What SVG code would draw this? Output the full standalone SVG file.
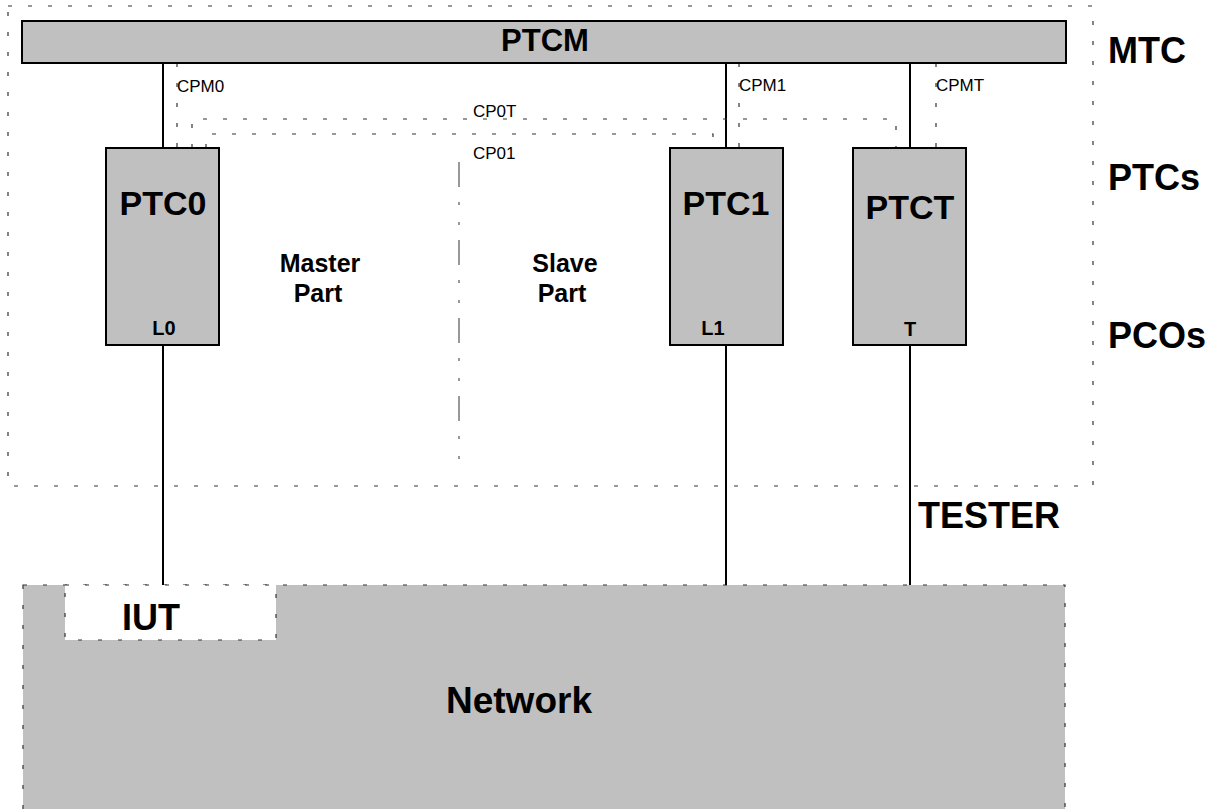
<svg xmlns="http://www.w3.org/2000/svg" width="1210" height="809" viewBox="0 0 1210 809">
<style>
.dot{fill:none;stroke:#333;stroke-width:1.2;stroke-dasharray:4 16}
.box{fill:#c0c0c0;stroke:#000;stroke-width:2}
.ln{fill:none;stroke:#000;stroke-width:2}
.b{font-family:"Liberation Sans",Arial,sans-serif;font-weight:bold;fill:#000}
.r{font-family:"Liberation Sans",Arial,sans-serif;fill:#000;font-size:17px}
.m{text-anchor:middle}
</style>
<rect width="1210" height="809" fill="#fff"/>
<g id="tester">
<rect x="8" y="6" width="1085" height="480" class="dot"/>
<text x="918" y="528" class="b" font-size="36">TESTER</text>
</g>
<g id="network">
<rect x="23" y="585" width="1042" height="240" class="dot" style="fill:#c0c0c0"/>
<text x="519" y="713" class="b m" font-size="37">Network</text>
</g>
<g id="iut">
<rect x="65" y="585" width="211" height="55" class="dot" style="fill:#fff"/>
<text x="151" y="630" class="b m" font-size="36">IUT</text>
</g>
<g id="connectors">
<line x1="163" y1="63" x2="163" y2="148" class="ln"/>
<line x1="726" y1="63" x2="726" y2="148" class="ln"/>
<line x1="910" y1="63" x2="910" y2="148" class="ln"/>
<line x1="163" y1="345" x2="163" y2="585" class="ln"/>
<line x1="726" y1="345" x2="726" y2="585" class="ln"/>
<line x1="910" y1="345" x2="910" y2="585" class="ln"/>
<line x1="177" y1="63" x2="177" y2="148" class="dot"/>
<line x1="739" y1="63" x2="739" y2="148" class="dot"/>
<line x1="936" y1="63" x2="936" y2="148" class="dot"/>
<path d="M192,148 V119 H896 V148" class="dot"/>
<path d="M206,148 V134 H713 V148" class="dot"/>
<line x1="459" y1="162" x2="459" y2="464" fill="none" stroke="#555" stroke-width="1.2" stroke-dasharray="25 15 3 17 3 15"/>
<text x="177" y="92" class="r">CPM0</text>
<text x="739" y="91" class="r">CPM1</text>
<text x="936" y="91" class="r">CPMT</text>
<text x="473" y="117" class="r">CP0T</text>
<text x="473" y="159" class="r">CP01</text>
</g>
<g id="ptcm">
<rect x="22" y="21" width="1044" height="42" class="box"/>
<text x="545" y="51" class="b m" font-size="31">PTCM</text>
</g>
<g id="ptc0">
<rect x="106" y="148" width="113" height="197" class="box"/>
<text x="163" y="215" class="b m" font-size="34">PTC0</text>
<text x="164" y="335" class="b m" font-size="20">L0</text>
</g>
<g id="ptc1">
<rect x="670" y="148" width="113" height="197" class="box"/>
<text x="726" y="215" class="b m" font-size="34">PTC1</text>
<text x="713" y="335" class="b m" font-size="20">L1</text>
</g>
<g id="ptct">
<rect x="853" y="148" width="113" height="197" class="box"/>
<text x="910" y="219" class="b m" font-size="34">PTCT</text>
<text x="910" y="336" class="b m" font-size="20">T</text>
</g>
<g id="parts">
<text x="320" y="272" class="b m" font-size="25">Master</text>
<text x="318" y="302" class="b m" font-size="25">Part</text>
<text x="565" y="272" class="b m" font-size="25">Slave</text>
<text x="562" y="302" class="b m" font-size="25">Part</text>
</g>
<g id="levels">
<text x="1108" y="63" class="b" font-size="36">MTC</text>
<text x="1108" y="190" class="b" font-size="36">PTCs</text>
<text x="1108" y="348" class="b" font-size="36">PCOs</text>
</g>
</svg>
